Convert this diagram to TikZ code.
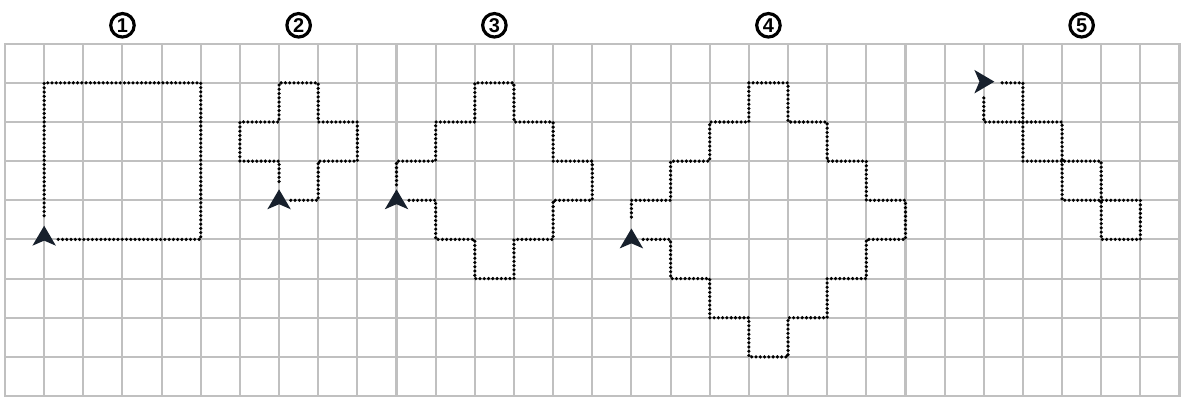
\documentclass[tikz,border=0pt]{standalone}
\usepackage{fontspec}
\setsansfont{Liberation Sans}
\definecolor{navy}{HTML}{17202C}
\definecolor{gridgray}{HTML}{C0C0C0}
\tikzset{
  gridline/.style={draw=gridgray, line width=1.5pt},
  trail/.style={draw=black, line width=2.6pt, dash pattern=on 0pt off 3.1pt, line cap=round, line join=round},
  numlabel/.style={circle, draw=black, line width=2.3pt, minimum size=0.6cm, inner sep=0pt,
    font=\sffamily\bfseries\fontsize{14.5}{14.5}\selectfont},
  navpic/.pic={\fill[navy] (0,0.28) -- (0.3,-0.23) -- (0,-0.1) -- (-0.3,-0.23) -- cycle;}
}
\begin{document}
\begin{tikzpicture}
\useasboundingbox[fill=white] (-0.128,-9.05) rectangle (30.038,1.116);
% grid
\draw[gridline] (0,0) grid (30,-9);
\draw[gridline] (0,0) rectangle (30,-9);
% labels
\node[numlabel] (n1) at (3,0.47) {1};
\node[numlabel] (n2) at (7.5,0.47) {2};
\node[numlabel] (n3) at (12.5,0.47) {3};
\node[numlabel] (n4) at (19.5,0.47) {4};
\node[numlabel] (n5) at (27.5,0.47) {5};
% figure 1
\draw[trail] (1.36,-5) -- (5,-5) -- (5,-1) -- (1,-1) -- (1,-4.5);
\pic at (1,-4.93) {navpic};
% figure 2
\draw[trail] (7.3,-4) -- (8,-4) -- (8,-3) -- (9,-3) -- (9,-2) -- (8,-2) -- (8,-1) -- (7,-1) -- (7,-2) -- (6,-2) -- (6,-3) -- (7,-3) -- (7,-3.62);
\pic at (7,-4) {navpic};
% figure 3
\draw[trail] (10.32,-4) -- (11,-4) -- (11,-5) -- (12,-5) -- (12,-6) -- (13,-6) -- (13,-5) -- (14,-5) -- (14,-4) -- (15,-4) -- (15,-3) -- (14,-3) -- (14,-2) -- (13,-2) -- (13,-1) -- (12,-1) -- (12,-2) -- (11,-2) -- (11,-3) -- (10,-3) -- (10,-3.62);
\pic at (10,-4) {navpic};
% figure 4
\draw[trail] (16.3,-5) -- (17,-5) -- (17,-6) -- (18,-6) -- (18,-7) -- (19,-7) -- (19,-8) -- (20,-8) -- (20,-7) -- (21,-7) -- (21,-6) -- (22,-6) -- (22,-5) -- (23,-5) -- (23,-4) -- (22,-4) -- (22,-3) -- (21,-3) -- (21,-2) -- (20,-2) -- (20,-1) -- (19,-1) -- (19,-2) -- (18,-2) -- (18,-3) -- (17,-3) -- (17,-4) -- (16,-4) -- (16,-4.53);
\pic at (16,-5) {navpic};
% figure 5
\draw[trail] (25.47,-1) -- (26,-1) -- (26,-2) -- (27,-2) -- (27,-3) -- (28,-3) -- (28,-4) -- (29,-4) -- (29,-5) -- (28,-5) -- (28,-4) -- (27,-4) -- (27,-3) -- (26,-3) -- (26,-2) -- (25,-2) -- (25,-1.34);
\pic[rotate=-90] at (24.99,-0.97) {navpic};
\end{tikzpicture}
\end{document}
